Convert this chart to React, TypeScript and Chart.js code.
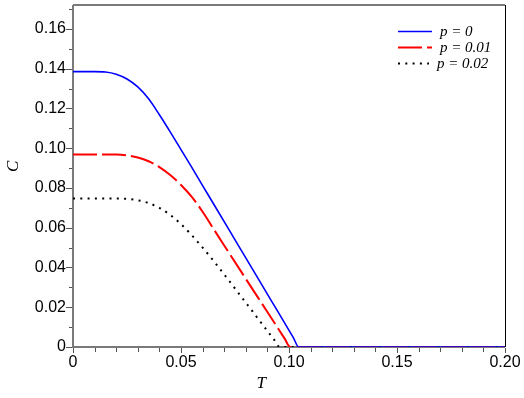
import React, { useEffect, useRef } from 'react';
import { Chart, registerables } from 'chart.js';

Chart.register(...registerables);

// ---- data ----
const tP0 = [0, 0.01, 0.015, 0.02, 0.025, 0.03, 0.035, 0.04, 0.045, 0.05, 0.055, 0.06, 0.066, 0.075, 0.088, 0.095, 0.102, 0.1045, 0.13, 0.16, 0.2];
const cP0 = [0.1385, 0.1385, 0.1383, 0.1372, 0.1348, 0.1308, 0.1248, 0.1168, 0.1082, 0.0993, 0.0903, 0.0812, 0.0703, 0.0539, 0.0302, 0.0175, 0.0047, 0, 0, 0, 0];

const tP1 = [0, 0.02, 0.025, 0.03, 0.035, 0.04, 0.045, 0.05, 0.055, 0.06, 0.065, 0.071, 0.08, 0.09, 0.098, 0.1005, 0.13, 0.16, 0.2];
const cP1 = [0.0968, 0.0968, 0.0964, 0.0953, 0.0934, 0.0905, 0.0865, 0.0815, 0.0755, 0.068, 0.0595, 0.0494, 0.0343, 0.0176, 0.0042, 0, 0, 0, 0];

const tP2 = [0, 0.02, 0.025, 0.03, 0.035, 0.04, 0.045, 0.05, 0.055, 0.06, 0.065, 0.07, 0.076, 0.085, 0.093, 0.0957, 0.13, 0.16, 0.2];
const cP2 = [0.0747, 0.0747, 0.0745, 0.0738, 0.0724, 0.07, 0.0664, 0.0618, 0.0562, 0.05, 0.0434, 0.0365, 0.028, 0.0152, 0.0038, 0, 0, 0, 0];

const seriesLabels = ['p = 0', 'p = 0.01', 'p = 0.02'];

const xMajorTicks = [0, 0.05, 0.1, 0.15, 0.2];
const xMajorLabels = ['0', '0.05', '0.10', '0.15', '0.20'];
const xMinorTicks = [0.01, 0.02, 0.03, 0.04, 0.06, 0.07, 0.08, 0.09, 0.11, 0.12, 0.13, 0.14, 0.16, 0.17, 0.18, 0.19];

const yMajorTicks = [0, 0.02, 0.04, 0.06, 0.08, 0.1, 0.12, 0.14, 0.16];
const yMajorLabels = ['0', '0.02', '0.04', '0.06', '0.08', '0.10', '0.12', '0.14', '0.16'];
const yMinorTicks = [0.01, 0.03, 0.05, 0.07, 0.09, 0.11, 0.13, 0.15, 0.17];

const xTitle = 'T';
const yTitle = 'C';

const toPoints = (xs: number[], ys: number[]) => xs.map((x, i) => ({ x, y: ys[i] }));

const isIn = (arr: number[], v: number) => arr.findIndex((a) => Math.abs(a - v) < 1e-9);

export default function App() {
  const ref = useRef<HTMLCanvasElement>(null);

  useEffect(() => {
    if (!ref.current) return;

    const framePlugin = {
      id: 'frame',
      beforeDatasetsDraw(chart: any) {
        const { ctx, chartArea: a } = chart;
        ctx.save();
        ctx.strokeStyle = '#7a7a7a';
        ctx.lineWidth = 2;
        ctx.beginPath();
        ctx.moveTo(a.left, a.top);
        ctx.lineTo(a.right, a.top);
        ctx.moveTo(a.left, a.top);
        ctx.lineTo(a.left, a.bottom);
        ctx.lineTo(a.right, a.bottom);
        ctx.stroke();
        ctx.strokeStyle = '#000';
        ctx.lineWidth = 1;
        ctx.beginPath();
        ctx.moveTo(a.right + 0.5, a.top);
        ctx.lineTo(a.right + 0.5, a.bottom);
        ctx.stroke();

        ctx.strokeStyle = '#555';
        ctx.lineWidth = 1;
        const xs = chart.scales.x;
        const ys = chart.scales.y;
        ctx.beginPath();
        xs.ticks.forEach((t: any) => {
          const px = Math.round(xs.getPixelForValue(t.value)) + 0.5;
          const len = isIn(xMajorTicks, t.value) >= 0 ? 5 : 4;
          ctx.moveTo(px, a.bottom + 1);
          ctx.lineTo(px, a.bottom + 1 + len);
        });
        ys.ticks.forEach((t: any) => {
          const py = Math.round(ys.getPixelForValue(t.value)) + 0.5;
          const len = isIn(yMajorTicks, t.value) >= 0 ? 6 : 3;
          ctx.moveTo(a.left - 1, py);
          ctx.lineTo(a.left - 1 - len, py);
        });
        ctx.stroke();

        ctx.fillStyle = '#000';
        ctx.font = 'italic 17px "Liberation Serif", "DejaVu Serif", serif';
        ctx.textAlign = 'center';
        ctx.textBaseline = 'middle';
        ctx.fillText(xTitle, a.left + 0.436 * (a.right - a.left), 384);
        ctx.save();
        ctx.translate(14, a.top + 0.472 * (a.bottom - a.top));
        ctx.rotate(-Math.PI / 2);
        ctx.fillText(yTitle, 0, 0);
        ctx.restore();
        ctx.restore();
      },
      afterDraw(chart: any) {
        const { ctx, chartArea: a } = chart;
        ctx.save();
        chart.data.datasets.forEach((ds: any, i: number) => {
          const y = a.top + 26 + i * 16;
          const x0 = a.right - 107;
          ctx.strokeStyle = ds.borderColor;
          ctx.lineWidth = ds.borderWidth;
          ctx.setLineDash(ds.borderDash || []);
          ctx.beginPath();
          ctx.moveTo(x0, y + 0.5);
          ctx.lineTo(x0 + (i === 2 ? 31 : 34), y + 0.5);
          ctx.stroke();
          ctx.setLineDash([]);
          ctx.fillStyle = '#000';
          ctx.font = 'italic 15px "Liberation Serif", "DejaVu Serif", serif';
          ctx.textAlign = 'left';
          ctx.textBaseline = 'middle';
          ctx.fillText(ds.label, i === 2 ? a.right - 68 : a.right - 65, y + 1);
        });
        ctx.restore();
      },
    };

    const tickFont = { family: '"Liberation Sans", Arial, sans-serif', size: 16 };

    const chart = new Chart(ref.current, {
      type: 'line',
      data: {
        datasets: [
          {
            label: seriesLabels[0],
            data: toPoints(tP0, cP0),
            borderColor: '#0000ff',
            borderWidth: 1.6,
            pointRadius: 0,
            cubicInterpolationMode: 'monotone',
            fill: false,
          },
          {
            label: seriesLabels[1],
            data: toPoints(tP1, cP1),
            borderColor: '#ff0000',
            borderWidth: 2,
            borderDash: [24, 5],
            pointRadius: 0,
            cubicInterpolationMode: 'monotone',
            fill: false,
          },
          {
            label: seriesLabels[2],
            data: toPoints(tP2, cP2),
            borderColor: '#000000',
            borderWidth: 2,
            borderDash: [2, 5.3],
            pointRadius: 0,
            cubicInterpolationMode: 'monotone',
            fill: false,
          },
        ],
      },
      options: {
        responsive: false,
        animation: false,
        layout: { padding: { left: 0, top: 5, right: 19, bottom: 0 } },
        plugins: { legend: { display: false }, tooltip: { enabled: false } },
        scales: {
          x: {
            type: 'linear',
            min: 0,
            max: 0.2,
            border: { display: false },
            grid: { display: false, drawTicks: false },
            afterBuildTicks: (s: any) => {
              s.ticks = [...xMajorTicks, ...xMinorTicks].sort((a, b) => a - b).map((v) => ({ value: v }));
            },
            ticks: {
              autoSkip: false,
              maxRotation: 0,
              padding: 6,
              color: '#000',
              font: tickFont,
              callback: (v: any) => {
                const i = isIn(xMajorTicks, Number(v));
                return i >= 0 ? xMajorLabels[i] : '';
              },
            },
            afterFit: (s: any) => {
              s.height = 51;
              s.paddingLeft = 0;
              s.paddingRight = 0;
            },
          },
          y: {
            type: 'linear',
            min: 0,
            max: 0.172,
            border: { display: false },
            grid: { display: false, drawTicks: false },
            afterBuildTicks: (s: any) => {
              s.ticks = [...yMajorTicks, ...yMinorTicks].sort((a, b) => a - b).map((v) => ({ value: v }));
            },
            ticks: {
              autoSkip: false,
              padding: 7,
              color: '#000',
              font: tickFont,
              callback: (v: any) => {
                const i = isIn(yMajorTicks, Number(v));
                return i >= 0 ? yMajorLabels[i] : '';
              },
            },
            afterFit: (s: any) => {
              s.width = 73;
              s.paddingTop = 0;
              s.paddingBottom = 0;
            },
          },
        },
      },
      plugins: [framePlugin],
    } as any);

    return () => chart.destroy();
  }, []);

  return (
    <div style={{ position: 'absolute', left: 0, top: 0, width: 524, height: 398, background: '#fff' }}>
      <canvas ref={ref} width={524} height={398} />
    </div>
  );
}
